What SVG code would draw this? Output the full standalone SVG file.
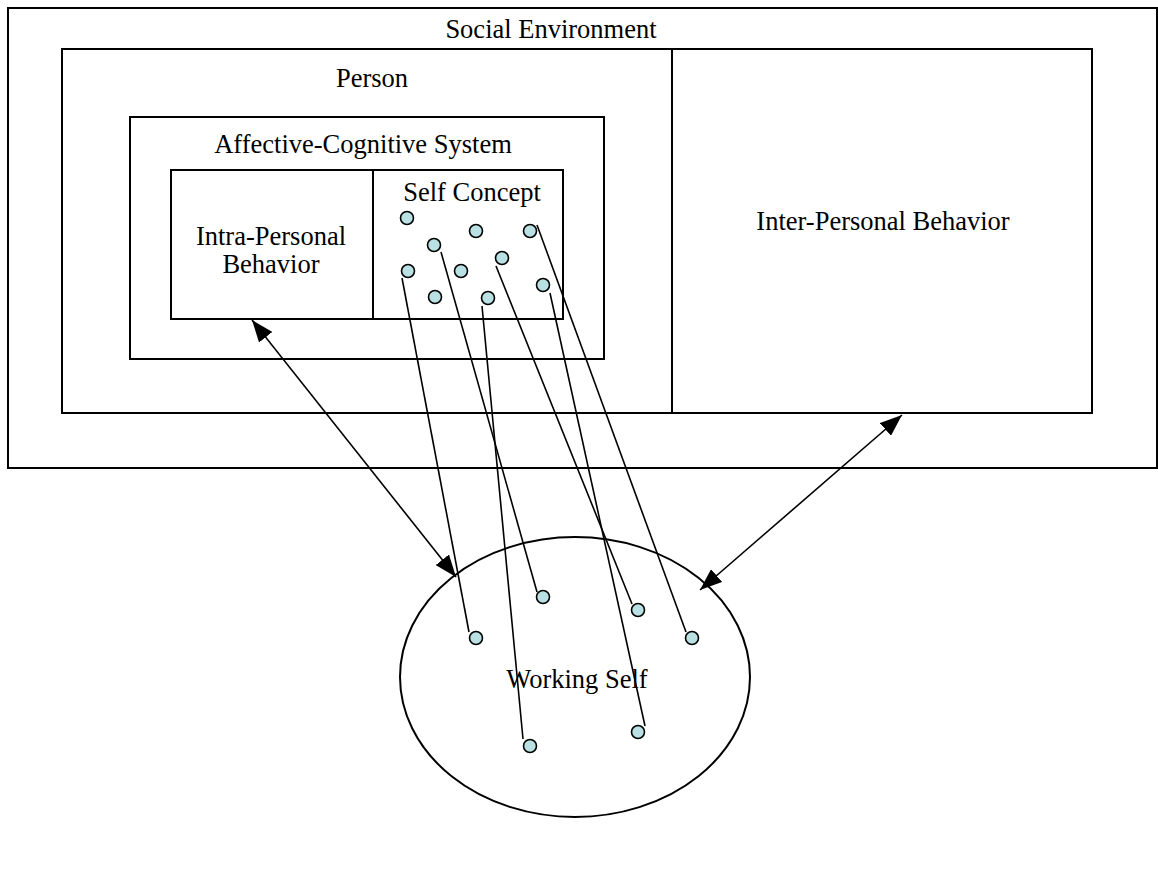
<svg xmlns="http://www.w3.org/2000/svg" width="1158" height="875" viewBox="0 0 1158 875">
  <style>
    .box { fill: none; stroke: #000; stroke-width: 2; }
    .lbl { font-family: "Liberation Serif", "Times New Roman", serif; font-size: 26.5px; fill: #000; text-anchor: middle; }
    .dot { fill: #b9e0e3; stroke: #000; stroke-width: 1.6; }
    .link { stroke: #000; stroke-width: 1.6; fill: none; }
    .arrow { stroke: #000; stroke-width: 1.6; fill: none; marker-start: url(#head); marker-end: url(#head); }
  </style>
  <defs>
    <marker id="head" viewBox="0 0 22 17" refX="22" refY="8.5" markerWidth="22" markerHeight="17" markerUnits="userSpaceOnUse" orient="auto-start-reverse">
      <path d="M0,0 L22,8.5 L0,17 Z" fill="#000"/>
    </marker>
  </defs>
  <rect width="1158" height="875" fill="#fff"/>

  <g id="social-environment">
    <rect class="box" x="8" y="8" width="1149" height="460"/>
    <text class="lbl" x="551" y="38">Social Environment</text>
  </g>

  <g id="person">
    <rect class="box" x="62" y="49" width="1030" height="364"/>
    <text class="lbl" x="372" y="87">Person</text>
  </g>

  <g id="inter-personal-behavior">
    <line class="box" x1="672" y1="49" x2="672" y2="413"/>
    <text class="lbl" x="883" y="230">Inter-Personal Behavior</text>
  </g>

  <g id="affective-cognitive-system">
    <rect class="box" x="130" y="117" width="474" height="242"/>
    <text class="lbl" x="363" y="153">Affective-Cognitive System</text>
  </g>

  <g id="intra-personal-behavior">
    <rect class="box" x="171" y="170" width="202" height="149"/>
    <text class="lbl" x="271" y="245">Intra-Personal</text>
    <text class="lbl" x="271" y="273">Behavior</text>
  </g>

  <g id="self-concept">
    <rect class="box" x="373" y="170" width="190" height="149"/>
    <text class="lbl" x="472" y="201">Self Concept</text>
    <circle class="dot" cx="407" cy="218" r="6.5"/>
    <circle class="dot" cx="434" cy="245" r="6.5"/>
    <circle class="dot" cx="476" cy="231" r="6.5"/>
    <circle class="dot" cx="530" cy="231" r="6.5"/>
    <circle class="dot" cx="408" cy="271" r="6.5"/>
    <circle class="dot" cx="461" cy="271" r="6.5"/>
    <circle class="dot" cx="502" cy="258" r="6.5"/>
    <circle class="dot" cx="435" cy="297" r="6.5"/>
    <circle class="dot" cx="488" cy="298" r="6.5"/>
    <circle class="dot" cx="543" cy="285" r="6.5"/>
  </g>

  <g id="working-self">
    <ellipse class="box" cx="575" cy="677" rx="175" ry="140"/>
    <text class="lbl" x="577" y="688">Working Self</text>
  </g>

  <g id="connectors">
    <line class="arrow" x1="456" y1="577" x2="252" y2="320"/>
    <line class="arrow" x1="700" y1="590" x2="902" y2="415"/>
    <line class="link" x1="402" y1="278" x2="469" y2="632"/>
    <line class="link" x1="441" y1="252" x2="537" y2="592"/>
    <line class="link" x1="482" y1="306" x2="523" y2="739"/>
    <line class="link" x1="496" y1="266" x2="632" y2="604"/>
    <line class="link" x1="550" y1="293" x2="645" y2="726"/>
    <line class="link" x1="537" y1="225" x2="686" y2="632"/>
  </g>

  <g id="working-self-dots">
    <circle class="dot" cx="543" cy="597" r="6.5"/>
    <circle class="dot" cx="638" cy="610" r="6.5"/>
    <circle class="dot" cx="476" cy="638" r="6.5"/>
    <circle class="dot" cx="692" cy="638" r="6.5"/>
    <circle class="dot" cx="530" cy="746" r="6.5"/>
    <circle class="dot" cx="638" cy="732" r="6.5"/>
  </g>
</svg>
